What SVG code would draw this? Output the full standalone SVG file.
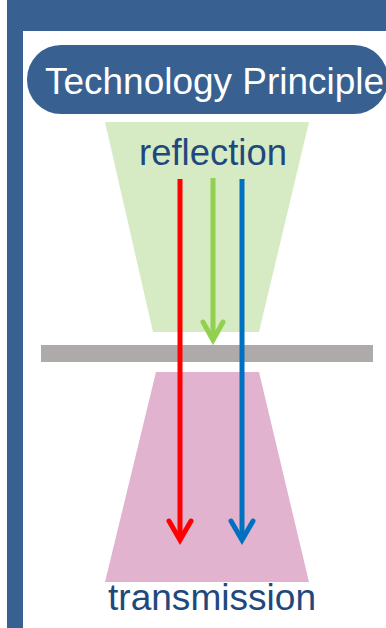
<svg xmlns="http://www.w3.org/2000/svg" width="386" height="628" viewBox="0 0 386 628">
<style>
.lbl{font-family:"Liberation Sans",Arial,sans-serif;font-size:37px;fill:#1F497D}
.ray{fill:none;stroke-width:5;stroke-linecap:butt}
.head{fill:none;stroke-width:5;stroke-linecap:round;stroke-linejoin:miter}
</style>
<rect x="0" y="0" width="386" height="628" fill="#ffffff"/>
<g id="frame">
<rect x="7" y="0" width="379" height="31" fill="#386191"/>
<rect x="7" y="0" width="16" height="628" fill="#386191"/>
</g>
<g id="title">
<rect x="27" y="45" width="361" height="69" rx="34" ry="34" fill="#386191"/>
<text x="45" y="94" font-family="Liberation Sans, Arial, sans-serif" font-size="37" fill="#ffffff" textLength="339" lengthAdjust="spacingAndGlyphs">Technology Principle</text>
</g>
<g id="reflection">
<polygon points="105,122 309,122 259,332 153,332" fill="#D6EBC3"/>
<text class="lbl" x="139" y="165" textLength="148" lengthAdjust="spacingAndGlyphs">reflection</text>
</g>
<g id="transmission">
<polygon points="156,372 259,372 309,582 105,582" fill="#E1B3CE"/>
<text class="lbl" x="108" y="610" textLength="208" lengthAdjust="spacingAndGlyphs">transmission</text>
</g>
<g id="sample">
<rect x="41" y="345" width="332" height="17" fill="#AEAAAA"/>
</g>
<g id="connectors">
<line class="ray" x1="213" y1="178" x2="213" y2="340" stroke="#92D050"/>
<polyline class="head" points="203,322 213,340 223,322" stroke="#92D050"/>
<line class="ray" x1="180" y1="179" x2="180" y2="540" stroke="#FF0000"/>
<polyline class="head" points="169,521 180,540 191,521" stroke="#FF0000"/>
<line class="ray" x1="242" y1="179" x2="242" y2="540" stroke="#0070C0"/>
<polyline class="head" points="231,521 242,540 253,521" stroke="#0070C0"/>
</g>
</svg>
